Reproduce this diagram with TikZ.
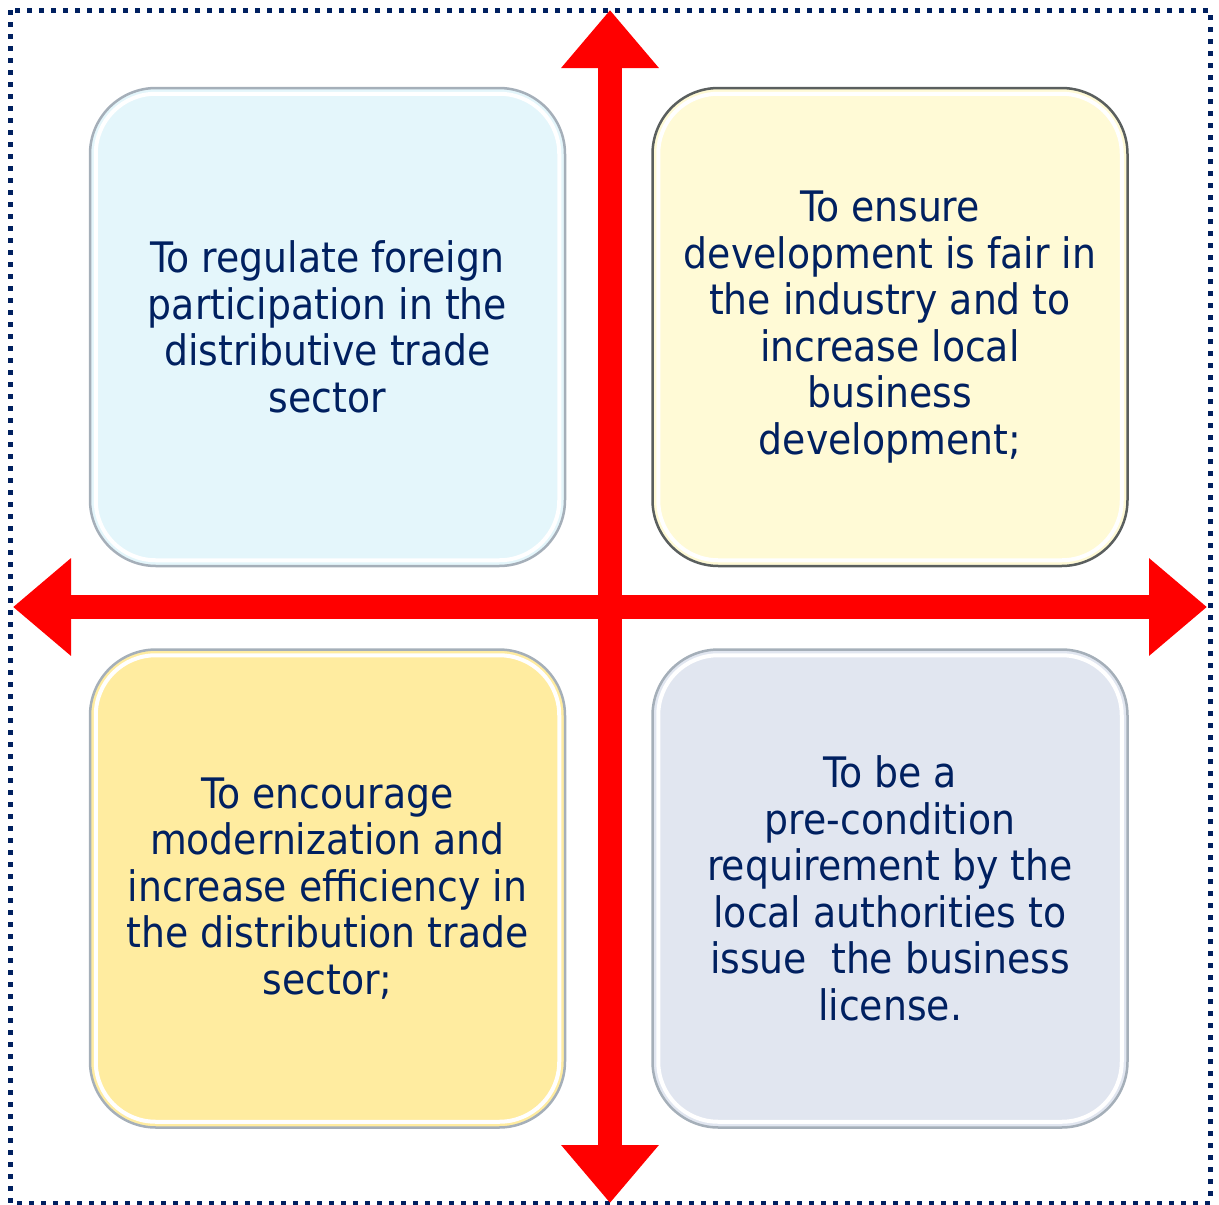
\documentclass[tikz,border=0pt]{standalone}
\usepackage{fontspec}
\setmainfont{DejaVu Sans Condensed}
\usetikzlibrary{arrows.meta,calc}
\definecolor{navy}{RGB}{0,32,96}
\definecolor{arrowred}{RGB}{255,0,0}
\definecolor{fillA}{RGB}{228,246,251}
\definecolor{fillB}{RGB}{255,250,214}
\definecolor{fillC}{RGB}{255,236,160}
\definecolor{fillD}{RGB}{225,230,240}
\definecolor{edgeA}{RGB}{165,175,185}
\definecolor{edgeB}{RGB}{90,95,95}
\tikzset{
  quad/.style={rounded corners=66pt, minimum width=475pt, minimum height=478pt,
    line width=2.5pt, text=navy, align=center, inner sep=0pt,
    font=\fontsize{42}{46.5}\selectfont},
  hilite/.style={draw=white, line width=4pt, rounded corners=60pt},
  axis/.style={draw=arrowred, line width=24pt,
    {Triangle[length=58pt,width=94pt]}-{Triangle[length=58pt,width=94pt]}}
}
\begin{document}
\begin{tikzpicture}[x=1pt,y=-1pt]
\useasboundingbox (0,0) rectangle (1219,1205);
% dotted frame
\draw[navy, line width=5pt, dash pattern=on 5pt off 7pt] (10,10) rectangle (1210,1203);
% boxes
\node[quad, fill=fillA, draw=edgeA] (tl) at (327.5,327) {To regulate foreign\\participation in the\\distributive trade\\sector};
\node[quad, fill=fillB, draw=edgeB] (tr) at (890,327) {To ensure\\development is fair in\\the industry and to\\increase local\\business\\development;};
\node[quad, fill=fillC, draw=edgeA] (bl) at (327.5,888.5) {To encourage\\modernization and\\increase efficiency in\\the distribution trade\\sector;};
\node[quad, fill=fillD, draw=edgeA] (br) at (890,888.5) {To be a\\pre-condition\\requirement by the\\local authorities to\\issue~ the business\\license.};
\foreach \b in {tl,tr,bl,br}{
  \draw[hilite] ($(\b.north west)+(7,7)$) rectangle ($(\b.south east)+(-7,-7)$);
}
% axes
\coordinate (top) at (610,10);
\coordinate (bottom) at (610,1203);
\coordinate (left) at (13,607);
\coordinate (right) at (1207,607);
\draw[axis] (top) -- (bottom);
\draw[axis] (left) -- (right);
\end{tikzpicture}
\end{document}
